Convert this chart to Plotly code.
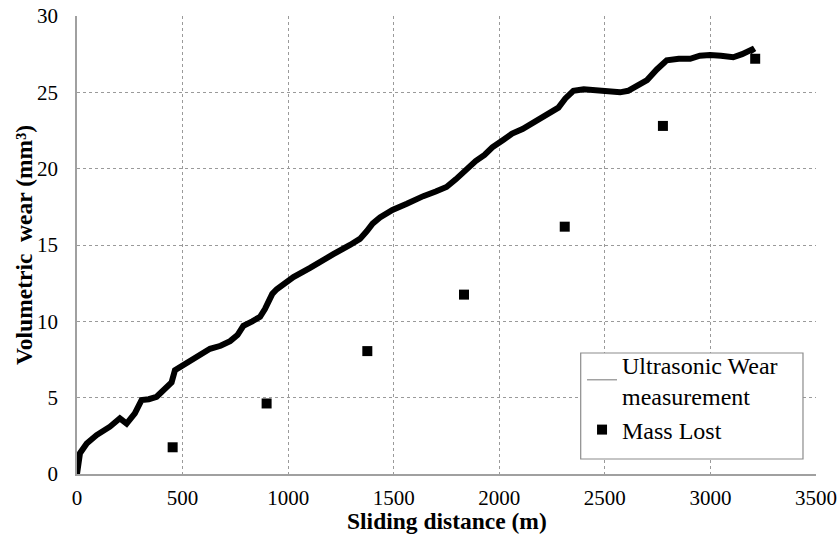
import plotly.graph_objects as go

us_distance = [0, 14, 46, 93, 156, 203, 235, 274, 306, 340, 377, 424, 448, 464, 500, 551, 590, 630,
               680, 725, 760, 788, 830, 867, 890, 906, 925, 946, 1000, 1025, 1104, 1160, 1214, 1293,
               1340, 1372, 1400, 1435, 1494, 1562, 1589, 1640, 1699, 1750, 1794, 1841, 1888, 1930,
               1967, 2020, 2061, 2110, 2155, 2200, 2234, 2280, 2313, 2351, 2400, 2477, 2530, 2572,
               2610, 2651, 2700, 2746, 2793, 2850, 2904, 2950, 2998, 3050, 3108, 3150, 3196, 3205]
us_wear = [0, 1.36, 2.0, 2.55, 3.1, 3.65, 3.3, 3.97, 4.85, 4.9, 5.06, 5.7, 6.0, 6.8, 7.1, 7.6, 7.9, 8.2,
           8.4, 8.7, 9.1, 9.7, 10.0, 10.3, 10.8, 11.3, 11.8, 12.1, 12.6, 12.9, 13.5, 14.0, 14.4, 15.0,
           15.4, 15.9, 16.4, 16.8, 17.3, 17.7, 17.9, 18.2, 18.5, 18.8, 19.3, 19.9, 20.5, 20.9,
           21.4, 21.9, 22.3, 22.6, 23.0, 23.4, 23.6, 24.0, 24.6, 25.1, 25.2, 25.15, 25.1, 25.0,
           25.1, 25.4, 25.8, 26.5, 27.1, 27.2, 27.2, 27.4, 27.45, 27.4, 27.3, 27.5, 27.8, 27.6]

# Mass lost points
ml_distance = [453, 898, 1375, 1833, 2310, 2775, 3212]
ml_wear = [1.75, 4.62, 8.05, 11.75, 16.2, 22.8, 27.2]

x_ticks = [0, 500, 1000, 1500, 2000, 2500, 3000, 3500]
y_ticks = [0, 5, 10, 15, 20, 25, 30]

FONT = "Liberation Serif"

fig = go.Figure()
fig.add_trace(go.Scatter(x=us_distance, y=us_wear, mode="lines",
                         line=dict(color="black", width=6), showlegend=False,
                         name="Ultrasonic Wear measurement"))
fig.add_trace(go.Scatter(x=[None], y=[None], mode="lines",
                         line=dict(color="#8c8c8c", width=1.2),
                         name="Ultrasonic Wear<br>measurement"))
fig.add_trace(go.Scatter(x=ml_distance, y=ml_wear, mode="markers",
                         marker=dict(symbol="square", size=10, color="black"),
                         name="Mass Lost"))

fig.add_shape(type="rect", xref="paper", yref="paper",
              x0=0.6816, x1=0.9824, y0=0.0328, y1=0.2642,
              line=dict(color="#8c8c8c", width=1.2), fillcolor="white", layer="above")

fig.update_layout(
    width=839, height=544,
    margin=dict(l=77, r=23, t=16, b=70),
    paper_bgcolor="white", plot_bgcolor="white",
    font=dict(family=FONT, color="black", size=21),
    legend=dict(x=0.6834, y=0.288, xanchor="left", yanchor="top",
                bgcolor="rgba(0,0,0,0)", borderwidth=0,
                font=dict(family=FONT, size=24, color="black"),
                tracegroupgap=0, itemwidth=30),
    xaxis=dict(range=[0, 3500], tickvals=x_ticks, ticktext=[str(v) for v in x_ticks],
               showgrid=True, gridcolor="#9a9a9a", griddash="dot", gridwidth=1,
               showline=True, linecolor="#a0a0a0", linewidth=1.5, zeroline=False,
               ticks="", ticklabelstandoff=4, automargin=False,
               tickfont=dict(family=FONT, size=21, color="black")),
    yaxis=dict(range=[0, 30], tickvals=y_ticks, ticktext=[str(v) for v in y_ticks],
               showgrid=True, gridcolor="#9a9a9a", griddash="dot", gridwidth=1,
               showline=True, linecolor="#a0a0a0", linewidth=1.5, zeroline=False,
               ticks="", ticklabelstandoff=13, automargin=False,
               tickfont=dict(family=FONT, size=21, color="black")),
    annotations=[
        dict(text="<b>Volumetric  wear (mm³)</b>", xref="paper", yref="paper",
             x=-0.0717, y=0.5, xanchor="center", yanchor="middle",
             textangle=-90, showarrow=False,
             font=dict(family=FONT, size=23.5, color="black")),
        dict(text="<b>Sliding distance (m)</b>", xref="paper", yref="paper",
             x=0.5, y=-0.1026, xanchor="center", yanchor="middle",
             showarrow=False,
             font=dict(family=FONT, size=23.5, color="black")),
    ],
)

fig.write_html("out.html", config={"displayModeBar": False},
               post_script="document.body.style.margin='0';document.body.style.overflow='hidden';")
